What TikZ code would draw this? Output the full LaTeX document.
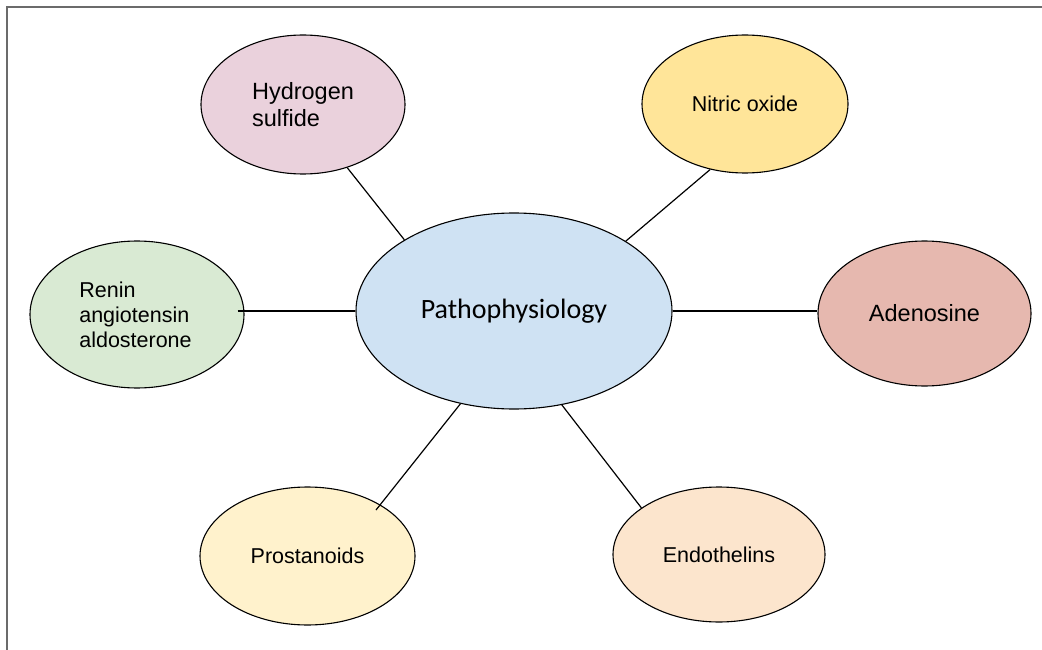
\documentclass[tikz,border=0pt]{standalone}
\usepackage{fontspec}
\setmainfont{Liberation Sans}
\newfontfamily\calibrifont{Carlito}
\usetikzlibrary{shapes.geometric}
\definecolor{cHS}{HTML}{EAD1DC}
\definecolor{cNO}{HTML}{FFE599}
\definecolor{cPA}{HTML}{CFE2F3}
\definecolor{cRE}{HTML}{D9EAD3}
\definecolor{cAD}{HTML}{E6B8AF}
\definecolor{cPR}{HTML}{FFF2CC}
\definecolor{cEN}{HTML}{FCE5CD}
\definecolor{frameGray}{HTML}{6B6B6B}
\begin{document}
\begin{tikzpicture}[x=1pt,y=-1pt,
  bubble/.style={ellipse,draw=black,line width=1.1pt,inner sep=0pt,align=left},
  conn/.style={draw=black,line width=1.2pt},
  small/.style={font=\fontsize{21.5}{25}\selectfont},
  big/.style={font=\fontsize{23.5}{27}\selectfont}]
\useasboundingbox (0,0) rectangle (1042,650);
\draw[frameGray,line width=1.5pt] (7,650) -- (7,7) -- (1042,7);

\node[bubble,fill=cPA,minimum width=316pt,minimum height=196pt,font=\calibrifont\fontsize{28}{30}\selectfont] (c) at (514,311) {Pathophysiology};
\node[bubble,fill=cHS,minimum width=204pt,minimum height=139pt,big] (hs) at (303,104.5) {Hydrogen\\sulfide};
\node[bubble,fill=cNO,minimum width=206pt,minimum height=138pt,small] (no) at (745,104) {Nitric oxide};
\node[bubble,fill=cRE,minimum width=214pt,minimum height=147pt,small] (re) at (137,314.5) {\hspace*{-3pt}Renin\\\hspace*{-3pt}angiotensin\\\hspace*{-3pt}aldosterone};
\node[bubble,fill=cAD,minimum width=213pt,minimum height=145pt,big] (ad) at (924.5,313.5) {Adenosine};
\node[bubble,fill=cPR,minimum width=215pt,minimum height=138pt,small] (pr) at (307.5,556) {Prostanoids};
\node[bubble,fill=cEN,minimum width=212pt,minimum height=135pt,small] (en) at (719,554.5) {Endothelins};

\path (re.east |- c.west) ++(-7,0) coordinate (reA);
\coordinate (prA) at (376,510);

\draw[conn] (hs.-55.3) -- (c.147.6);
\draw[conn] (no.242.1) -- (c.32);
\draw[conn] (reA) -- (c.west);
\draw[conn] (c.east) -- (c.east -| ad.west);
\draw[conn] (c.240) -- (prA);
\draw[conn] (c.-63.4) -- (en.149.6);
\end{tikzpicture}
\end{document}
